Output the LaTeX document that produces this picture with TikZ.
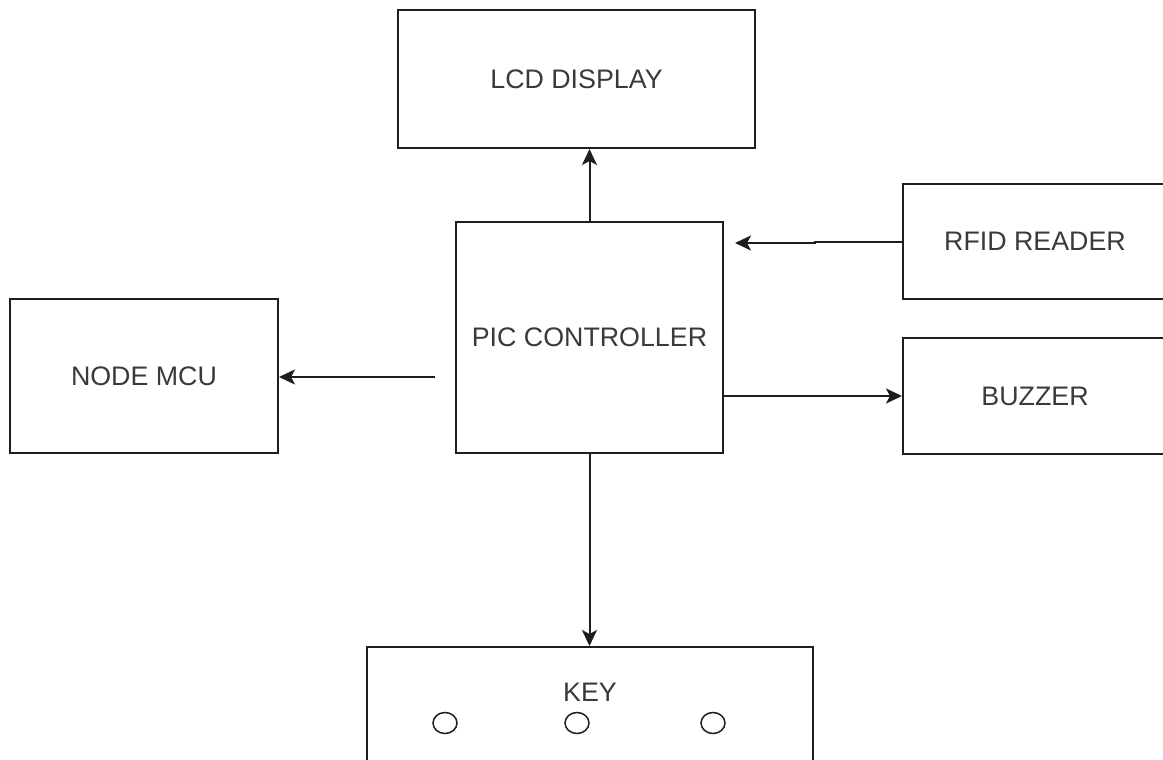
\documentclass[tikz,border=0pt]{standalone}
\usepackage{fontspec}
\setmainfont{Liberation Sans}
\usetikzlibrary{arrows.meta,shapes.geometric}
\definecolor{linec}{HTML}{1E1E1E}
\definecolor{textc}{HTML}{3A3A3A}
\tikzset{
  box/.style={draw=linec, line width=2pt, rectangle, inner sep=0pt,
    text=textc, font=\fontsize{26.8}{30}\selectfont},
  lbl/.style={text=textc, inner sep=0pt, font=\fontsize{26.8}{30}\selectfont},
  keybtn/.style={draw=linec, line width=1.5pt, ellipse, inner sep=0pt,
    minimum width=24pt, minimum height=21pt},
  arr/.style={draw=linec, line width=2pt,
    -{Stealth[length=16pt,width=15pt,inset=4pt]}}
}
\begin{document}
\begin{tikzpicture}[x=1pt,y=-1pt]
\useasboundingbox (0,0) rectangle (1163,760);
\clip (0,0) rectangle (1163,760);
\fill[white] (0,0) rectangle (1163,760);
% boxes
\node[box, minimum width=357pt, minimum height=138pt] (lcd) at (576.5,79) {LCD DISPLAY};
\node[box, minimum width=267pt, minimum height=231pt] (pic) at (589.5,337.5) {PIC CONTROLLER};
\node[box, minimum width=264pt, minimum height=115pt] (rfid) at (1035,241.5) {RFID READER};
\node[box, minimum width=264pt, minimum height=116pt] (buzzer) at (1035,396) {BUZZER};
\node[box, minimum width=268pt, minimum height=154pt] (nodemcu) at (144,376) {NODE MCU};
\node[box, minimum width=446pt, minimum height=153pt] (key) at (590,723.5) {};
\node[lbl] (keytext) at (590,692) {KEY};
\node[keybtn] (k1) at (445,723) {};
\node[keybtn] (k2) at (577,723) {};
\node[keybtn] (k3) at (713,723) {};
% connectors
\draw[arr] (pic.north) -- (pic.north |- lcd.south);
\coordinate (rj1) at (815,241.5);
\coordinate (rj2) at (815,243);
\coordinate (rend) at (735,243);
\draw[arr] (rfid.west) -- (rj1) -- (rj2) -- (rend);
\coordinate (nstart) at (435,377);
\draw[arr] (nstart) -- (nodemcu.east |- nstart);
\draw[arr] (pic.east |- buzzer.west) -- (buzzer.west);
\draw[arr] (pic.south) -- (pic.south |- key.north);
\end{tikzpicture}
\end{document}
